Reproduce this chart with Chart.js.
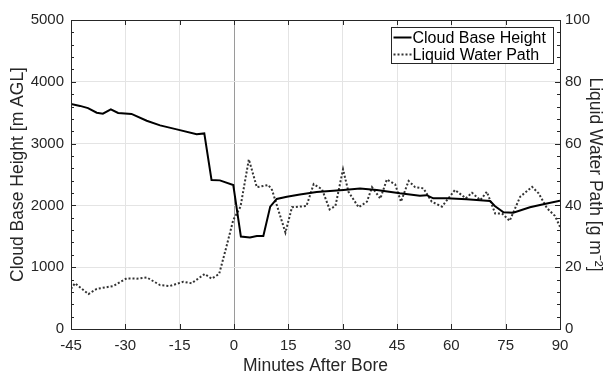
<!DOCTYPE html>
<html>
<head>
<meta charset="utf-8">
<script src="https://cdn.jsdelivr.net/npm/chart.js@4"></script>
<style>
  html, body { margin: 0; padding: 0; background: #fff; }
  #wrap { width: 607px; height: 373px; position: relative; }
</style>
</head>
<body>
<div id="wrap"><canvas id="boreChart"></canvas></div>
<script>
// minutes after bore / cloud base height (m AGL)
const cbhTime = [-45, -42.5, -40.3, -37.9, -36.2, -34, -32, -28.3, -24.1, -20.4, -15.8, -10.3, -8.2, -6.2, -3.9, -0.2,
    1.9, 4.4, 6.3, 8.1, 10, 11.8, 14.6, 18.2, 22.8, 30.2, 34.8, 39.4, 45.8, 51.3, 53.2, 55, 58.7, 64.2, 70.7, 72, 74.4,
    77.1, 81.7, 85.4, 90];
const cbhValue = [3640, 3610, 3575, 3500, 3485, 3555, 3495, 3480, 3370, 3295, 3230, 3150, 3165, 2410, 2405, 2330,
    1495, 1480, 1505, 1505, 1980, 2105, 2140, 2175, 2215, 2250, 2275, 2250, 2195, 2155, 2165, 2115, 2115, 2100, 2070,
    1990, 1890, 1880, 1970, 2020, 2075];
// minutes after bore / liquid water path (g m-2)
const lwpTime = [-45, -43.9, -40.2, -37.9, -33.3, -29.6, -26.9, -24.1, -20.4, -17.7, -14, -11.7, -8.1, -6.2, -4.1,
    -2.1, -0.2, 1.8, 4.1, 6.3, 9.5, 10.5, 14.2, 16, 20, 22, 24.3, 26.4, 28, 30.1, 31.6, 34.4, 36.7, 38.1, 40.4, 42.2,
    44.5, 46.1, 48.2, 50, 52.3, 54.6, 57.4, 61, 64, 65.7, 68, 69.8, 72.1, 74, 76.1, 79, 82.3, 84.1, 86.4, 88.6, 90];
const lwpValue = [13, 14.8, 11.3, 13, 13.9, 16.4, 16.3, 16.7, 14.2, 13.9, 15.3, 14.8, 17.8, 16.3, 17.8,
    26.6, 35.3, 39.6, 54.9, 45.9, 46.6, 45, 31.2, 39.4, 39.8, 46.9, 45.2, 38.7, 39.8, 51.7, 44.4, 39.4, 41.2, 45.9, 42.2, 48.4,
    46.8, 41.2, 47.9, 45.9, 45.5, 41.2, 39.6, 45, 42.3, 44.1, 41.7, 44.4, 37.4, 37.4, 35, 42.8, 46, 43.9, 39.1, 36.6, 33.1];

const xTicks = [-45, -30, -15, 0, 15, 30, 45, 60, 75, 90];
const leftTicks = [0, 1000, 2000, 3000, 4000, 5000];
const rightTicks = [0, 20, 40, 60, 80, 100];
const seriesNames = ['Cloud Base Height', 'Liquid Water Path'];

const FONT = 'Liberation Sans, Arial, Helvetica, sans-serif';

function pts(xs, ys) {
    return xs.map((x, i) => ({x: x, y: ys[i]}));
}

// 坐标框、内侧刻度和图例
const boxPlugin = {
    id: 'box',
    afterDraw(chart) {
        const ctx = chart.ctx;
        const a = chart.chartArea;
        const x = chart.scales.x, yl = chart.scales.y, yr = chart.scales.y2;
        ctx.save();
        ctx.strokeStyle = '#262626';
        ctx.lineWidth = 1;
        ctx.beginPath();
        xTicks.forEach(v => {
            const px = Math.round(x.getPixelForValue(v)) + 0.5;
            ctx.moveTo(px, a.bottom); ctx.lineTo(px, a.bottom - 5);
            ctx.moveTo(px, a.top); ctx.lineTo(px, a.top + 5);
        });
        for (let v = 0; v <= 5000; v += 200) {
            const py = Math.round(yl.getPixelForValue(v)) + 0.5;
            const len = v % 1000 === 0 ? 5 : 3;
            ctx.moveTo(a.left, py); ctx.lineTo(a.left + len, py);
        }
        for (let v = 0; v <= 100; v += 4) {
            const py = Math.round(yr.getPixelForValue(v)) + 0.5;
            const len = v % 20 === 0 ? 5 : 3;
            ctx.moveTo(a.right, py); ctx.lineTo(a.right - len, py);
        }
        ctx.stroke();
        ctx.strokeRect(Math.round(a.left) + 0.5, Math.round(a.top) + 0.5,
            Math.round(a.right - a.left), Math.round(a.bottom - a.top));

        // legend
        const lx = 391.5, ly = 27.5, lw = 162, lh = 36;
        ctx.fillStyle = '#fff';
        ctx.fillRect(lx, ly, lw, lh);
        ctx.strokeRect(lx, ly, lw, lh);
        ctx.font = '16px ' + FONT;
        ctx.textBaseline = 'middle';
        ctx.fillStyle = '#000';
        chart.data.datasets.forEach((ds, i) => {
            const cy = ly + 10 + i * 17;
            ctx.strokeStyle = ds.borderColor;
            ctx.lineWidth = 2;
            ctx.setLineDash(ds.borderDash || []);
            ctx.beginPath();
            ctx.moveTo(lx + 2, cy); ctx.lineTo(lx + 20, cy);
            ctx.stroke();
            ctx.setLineDash([]);
            ctx.fillText(ds.label, lx + 21, cy + 1);
        });
        ctx.restore();
    }
};

new Chart(document.getElementById('boreChart'), {
    type: 'line',
    data: {
        datasets: [
            {
                label: seriesNames[0],
                data: pts(cbhTime, cbhValue),
                yAxisID: 'y',
                borderColor: '#000',
                borderWidth: 2,
                pointRadius: 0,
                tension: 0
            },
            {
                label: seriesNames[1],
                data: pts(lwpTime, lwpValue),
                yAxisID: 'y2',
                borderColor: '#333',
                borderWidth: 2,
                borderDash: [2, 2],
                pointRadius: 0,
                tension: 0
            }
        ]
    },
    options: {
        responsive: true,
        maintainAspectRatio: false,
        animation: false,
        layout: {padding: {top: 20, left: 0, right: 0, bottom: 0}},
        plugins: {legend: {display: false}, tooltip: {enabled: false}},
        scales: {
            x: {
                type: 'linear',
                min: -45,
                max: 90,
                afterBuildTicks(scale) { scale.ticks = xTicks.map(v => ({value: v})); },
                afterFit(scale) { scale.height = 44; },
                ticks: {color: '#262626', font: {family: FONT, size: 15}, padding: 8, maxRotation: 0,
                    callback: v => String(v)},
                grid: {
                    color: ctx => ctx.tick && ctx.tick.value === 0 ? '#9a9a9a' : '#e4e4e4',
                    drawTicks: false
                },
                border: {display: false},
                title: {display: true, text: 'Minutes After Bore', color: '#262626',
                    font: {family: FONT, size: 17.5}, padding: {top: 0, bottom: -4}}
            },
            y: {
                position: 'left',
                min: 0,
                max: 5000,
                afterBuildTicks(scale) { scale.ticks = leftTicks.map(v => ({value: v})); },
                afterFit(scale) { scale.width = 71; },
                ticks: {color: '#262626', font: {family: FONT, size: 15}, padding: 7,
                    callback: v => String(v)},
                grid: {color: '#e4e4e4', drawTicks: false},
                border: {display: false},
                title: {display: true, text: 'Cloud Base Height [m AGL]', color: '#262626',
                    font: {family: FONT, size: 17.5}, padding: {top: 7.5, bottom: 0}}
            },
            y2: {
                position: 'right',
                min: 0,
                max: 100,
                afterBuildTicks(scale) { scale.ticks = rightTicks.map(v => ({value: v})); },
                afterFit(scale) { scale.width = 47; },
                ticks: {color: '#262626', font: {family: FONT, size: 15}, padding: 5,
                    callback: v => String(v)},
                grid: {display: false, drawTicks: false},
                border: {display: false},
                title: {display: true, text: 'Liquid Water Path [g m\u207B\u00B2]', color: '#262626',
                    font: {family: FONT, size: 17.5}, padding: {top: 1.5, bottom: 0}}
            }
        }
    },
    plugins: [boxPlugin]
});
</script>
</body>
</html>
